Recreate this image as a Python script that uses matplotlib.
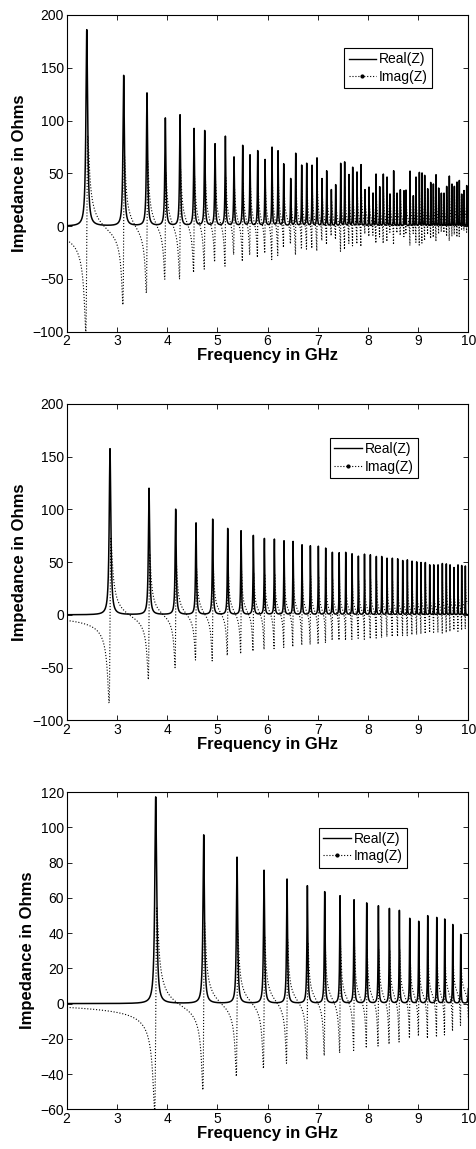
import numpy as np
import matplotlib.pyplot as plt
from matplotlib.lines import Line2D

plt.rcParams['font.family'] = ['Liberation Sans', 'DejaVu Sans']

# resonance frequencies (GHz) and peak Real(Z) (Ohms)
f_top = [2.40, 3.135, 3.60, 3.965, 4.258, 4.537, 4.749, 4.955, 5.161, 5.333,
         5.506, 5.652, 5.805, 5.951, 6.09, 6.21, 6.323, 6.462, 6.562, 6.681,
         6.781, 6.887, 6.986, 7.086, 7.179, 7.272, 7.358, 7.458, 7.537, 7.624,
         7.697, 7.783, 7.863, 7.942, 8.022, 8.102, 8.162, 8.235, 8.307, 8.381,
         8.440, 8.513, 8.580, 8.646, 8.719, 8.759, 8.839, 8.905, 8.958, 9.025,
         9.078, 9.131, 9.191, 9.251, 9.304, 9.357, 9.410, 9.463, 9.516, 9.569,
         9.622, 9.675, 9.722, 9.775, 9.821, 9.868, 9.914, 9.968]
r_top = [186, 142.5, 125.8, 102, 105, 92, 90, 77.5, 84.7, 65,
         76, 67, 71, 62.6, 74.3, 70.8, 58.5, 44.6, 68.6, 57.3,
         59.1, 57.2, 64.2, 44.6, 52, 34.2, 38.9, 59.1, 60.4, 48.4,
         55.4, 50.9, 57.9, 34.2, 36.7, 31.0, 49.0, 37.0, 49.0, 46.2,
         30.1, 52.2, 31.0, 34.2, 33.2, 33.8, 51.9, 28.5, 46.2, 50.6,
         50.0, 47.8, 35.1, 41.1, 39.6, 48.4, 35.8, 31.0, 31.0, 37.4,
         47.2, 39.6, 37.4, 41.5, 43.0, 30.1, 33.5, 38.3]

f_mid = [2.863, 3.640, 4.171, 4.576, 4.908, 5.207, 5.473, 5.718, 5.938, 6.137,
         6.329, 6.509, 6.688, 6.854, 7.013, 7.159, 7.292, 7.428, 7.558, 7.684,
         7.81, 7.932, 8.049, 8.168, 8.275, 8.381, 8.487, 8.593, 8.693, 8.786,
         8.879, 8.972, 9.058, 9.144, 9.231, 9.311, 9.397, 9.483, 9.562, 9.636,
         9.715, 9.795, 9.868, 9.941]
r_mid = [157.4, 119.8, 99.9, 86.9, 90.4, 81.6, 79.4, 75.0, 72.1, 71.5,
         69.9, 69.3, 66.1, 65.2, 64.8, 63.0, 59.0, 58.6, 59.0, 57.6,
         55.4, 57.3, 56.7, 55.1, 55.1, 53.5, 53.5, 52.9, 51.3, 51.9,
         50.7, 50.0, 49.4, 49.4, 47.2, 47.2, 47.2, 48.5, 48.1, 47.2,
         44.7, 47.2, 46.6, 46.2]

f_bot = [3.773, 4.729, 5.393, 5.931, 6.389, 6.794, 7.139, 7.445, 7.724, 7.976,
         8.209, 8.428, 8.627, 8.833, 9.012, 9.191, 9.371, 9.530, 9.690, 9.849,
         10.01]
r_bot = [117.2, 95.6, 82.9, 75.5, 70.5, 66.7, 63.3, 61.0, 58.7, 56.9,
         55.3, 53.8, 52.7, 48.2, 46.5, 49.7, 48.7, 47.8, 44.7, 39.1,
         42]

# peak widths (GHz) at 2 GHz and at 10 GHz
bw_top = (0.045, 0.004)
bw_mid = (0.05, 0.004)
bw_bot = (0.065, 0.01)

ylims = [(-100, 200), (-100, 200), (-60, 120)]
ysteps = [50, 50, 20]
legend_pos = [(0.910, 0.895), (0.874, 0.892), (0.847, 0.8875)]
axes_pos = [[0.1398, 0.7113, 0.842, 0.2757],
            [0.1398, 0.3731, 0.842, 0.2755],
            [0.1398, 0.0345, 0.842, 0.2762]]


def impedance(f, f0s, rs, bw):
    z = np.zeros(len(f), dtype=complex)
    for f0, r in zip(f0s, rs):
        w = bw[0] * (bw[1] / bw[0]) ** ((f0 - 2) / 8.0)
        q = f0 / w
        u = q * (f / f0 - f0 / f)
        z += r / (1 - 1j * u)
    return z


freq = np.linspace(2, 10, 100001)
fig = plt.figure(figsize=(4.77, 11.49), dpi=100)

panels = [(f_top, r_top, bw_top), (f_mid, r_mid, bw_mid), (f_bot, r_bot, bw_bot)]
for i, (f0s, rs, bw) in enumerate(panels):
    ax = fig.add_axes(axes_pos[i])
    z = impedance(freq, f0s, rs, bw)
    ax.plot(freq, z.real, color='k', lw=1.1)
    ax.plot(freq, z.imag, color='k', lw=0.8, ls=':')
    ax.set_xlim(2, 10)
    ax.set_ylim(*ylims[i])
    ax.set_xticks(np.arange(2, 11, 1))
    ax.set_yticks(np.arange(ylims[i][0], ylims[i][1] + 1, ysteps[i]))
    ax.tick_params(direction='in', top=True, right=True, length=3.5, width=0.6,
                   labelsize=10, pad=2)
    for s in ax.spines.values():
        s.set_linewidth(0.8)
    ax.set_xlabel('Frequency in GHz', fontsize=12, fontweight='bold', labelpad=0)
    ax.set_ylabel('Impedance in Ohms', fontsize=12, fontweight='bold', labelpad=4)
    handles = [Line2D([], [], color='k', lw=1.0),
               Line2D([], [], color='k', lw=0.8, ls=':', marker='.', markersize=4)]
    leg = ax.legend(handles, ['Real(Z)', 'Imag(Z)'], loc='upper right',
                    bbox_to_anchor=legend_pos[i], fancybox=False, edgecolor='k',
                    framealpha=1, fontsize=10, handlelength=2.0, handletextpad=0.2,
                    borderpad=0.3, labelspacing=0.25, borderaxespad=0, numpoints=1)
    leg.get_frame().set_linewidth(0.8)

fig.savefig('out.png', dpi=100)
